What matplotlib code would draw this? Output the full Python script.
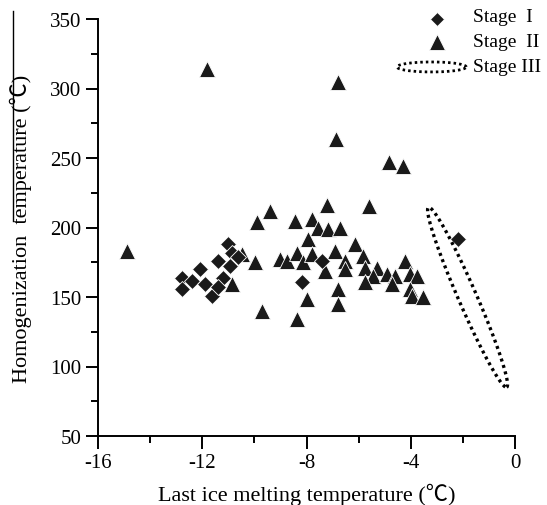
"""Last ice melting vs homogenization temperature, stages I-III"""

import numpy as np
import matplotlib
matplotlib.use('Agg')
import matplotlib.pyplot as plt
from matplotlib.lines import Line2D
from matplotlib.ticker import MultipleLocator

plt.rcParams['font.family'] = ['Liberation Serif', 'Noto Sans CJK SC']
plt.rcParams['axes.unicode_minus'] = False

## DATA ##
stage1_tm = [-11.0, -10.87, -10.62, -11.38, -10.93, -12.09, -12.79, -12.4,
             -11.9, -11.19, -12.79, -11.64, -11.38, -7.42, -8.18, -2.17]
stage1_th = [188, 182, 178.6, 176, 172.5, 170, 163.7, 161.7,
             159, 164, 156, 151, 157, 176, 161, 192]

stage2_tm = [-14.9, -11.81, -6.78, -6.88, -4.82, -4.31,
             -10.87, -10.49, -9.9, -9.98,
             -9.4, -8.44, -7.22, -7.8, -7.55, -7.16, -6.71, -7.93, -9.02, -8.75,
             -8.38, -8.12, -7.8, -6.91, -7.29, -6.52, -6.52, -6.14, -6.78, -6.78,
             -8.0, -8.38, -9.72,
             -5.59, -5.82, -5.31, -5.75, -5.43, -4.92, -4.6, -4.22, -4.03,
             -3.77, -5.75, -4.73, -4.03, -3.97, -3.52]
stage2_th = [183, 314, 304.5, 264, 247, 244,
             159, 181, 204, 175,
             212, 205, 216, 206, 200, 199, 200, 192, 177, 176,
             182, 175, 181, 183, 169, 176, 170, 188, 156, 145,
             148.6, 134, 140,
             215.7, 179.7, 171, 171, 165, 166.5, 165, 176, 166.5,
             165, 160.6, 159, 156, 151, 150]

# stage III field: centre, long semi-axis and short semi-axis (data units)
ell_center = (-1.82, 149.8)
ell_long = (1.50, -64.7)
ell_short = (0.32, 2.7)

fig = plt.figure(figsize=(5.47, 5.06), dpi=100)
ax = fig.add_axes([98 / 547, 69 / 506, 417 / 547, 417 / 506])

mk = dict(linestyle='none', color='#1a1a1a', markeredgecolor='white',
          markeredgewidth=0.6)
ax.plot(stage2_tm, stage2_th, marker='^', markersize=11.5, **mk)
ax.plot(stage1_tm, stage1_th, marker='D', markersize=8, **mk)

t = np.linspace(0, 2 * np.pi, 300)
ex = ell_center[0] + ell_long[0] * np.cos(t) + ell_short[0] * np.sin(t)
ey = ell_center[1] + ell_long[1] * np.cos(t) + ell_short[1] * np.sin(t)
ax.plot(ex, ey, color='black', linewidth=2.4, linestyle=(0, (0.9, 1.1)))

## axes ##
ax.set_xlim(-16, 0)
ax.set_ylim(50, 350)
ax.xaxis.set_major_locator(MultipleLocator(4))
ax.xaxis.set_minor_locator(MultipleLocator(2))
ax.yaxis.set_major_locator(MultipleLocator(50))
ax.yaxis.set_minor_locator(MultipleLocator(25))
for s in ['top', 'right']:
    ax.spines[s].set_visible(False)
for s in ['left', 'bottom']:
    ax.spines[s].set_linewidth(1.4)
ax.tick_params(which='major', direction='out', length=9, width=1.4,
               labelsize=15, pad=3)
ax.tick_params(which='minor', direction='out', length=5, width=1.4)
ax.set_xlabel('Last ice melting temperature (℃)', fontsize=16)
ax.set_ylabel('Homogenization  temperature (℃)', fontsize=16)
ax.xaxis.set_label_coords(0.5, -(495 - 437 - 11) / 417, transform=ax.transAxes)
ax.xaxis.label.set_va('top')
ax.yaxis.set_label_coords(-(98 - 32) / 417, 0.5)

## legend drawn by hand ##
lx, tx = 0.813, 0.90
ax.plot([lx], [1.0], marker='D', markersize=7, transform=ax.transAxes,
        clip_on=False, **mk)
ax.plot([lx], [0.945], marker='^', markersize=11, transform=ax.transAxes,
        clip_on=False, **mk)
lt = np.linspace(0, 2 * np.pi, 200)
ax.plot(0.80 + 0.083 * np.cos(lt), 0.885 + 0.012 * np.sin(lt),
        color='black', linewidth=2.0, linestyle=(0, (0.9, 1.1)),
        transform=ax.transAxes, clip_on=False)
for yy, lab in zip([1.005, 0.945, 0.885], ['Stage  I', 'Stage  II', 'Stage III']):
    ax.text(tx, yy, lab, transform=ax.transAxes, fontsize=14, va='center',
            ha='left')

# stray rule left of the y label
fig.add_artist(Line2D([12.5 / 547, 12.5 / 547], [1 - 12 / 506, 1 - 222 / 506],
                      color='black', linewidth=1.0))

plt.savefig('out.png', dpi=100)
